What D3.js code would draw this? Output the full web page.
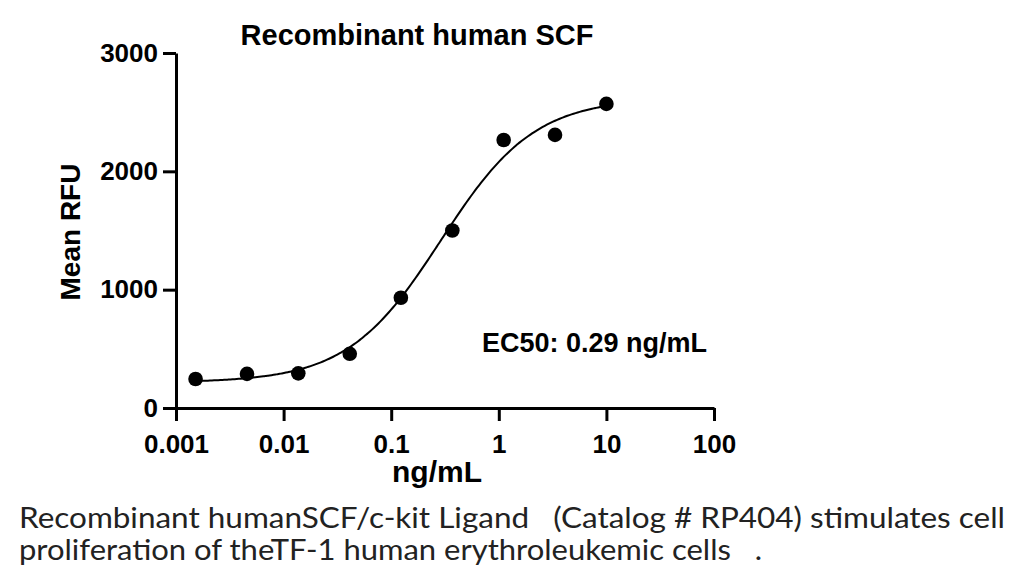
<!DOCTYPE html>
<html>
<head>
<meta charset="utf-8">
<script src="https://cdn.jsdelivr.net/npm/d3@7"></script>
<style>
  body { margin: 0; background: #fff; }
  svg { display: block; }
</style>
</head>
<body>
<svg></svg>
<script>
// dose (ng/mL) and mean RFU
const doses = [0.00152, 0.00457, 0.0137, 0.0412, 0.123, 0.370, 1.11, 3.33, 10];
const rfu = [245, 288, 293, 458, 932, 1500, 2265, 2308, 2570];
const xTicks = [0.001, 0.01, 0.1, 1, 10, 100];
const xTickLabels = ["0.001", "0.01", "0.1", "1", "10", "100"];
const yTicks = [0, 1000, 2000, 3000];
// 4PL fit parameters
const fitBottom = 215;
const fitTop = 2620;
const fitEC50 = 0.29;
const fitHill = 1.0;

const width = 1024;
const height = 577;
const svg = d3.select("svg").attr("width", width).attr("height", height);

const xScale = d3.scaleLog().domain([0.001, 100]).range([176, 714]);
const yScale = d3.scaleLinear().domain([0, 3000]).range([408, 53]);

const boldFont = "'Liberation Sans', Arial, sans-serif";

// axes
const xAxis = d3.axisBottom(xScale).tickValues(xTicks)
  .tickFormat((d, i) => xTickLabels[i]).tickSize(13).tickSizeOuter(0).tickPadding(14);
const yAxis = d3.axisLeft(yScale).tickValues(yTicks)
  .tickFormat(d3.format("d")).tickSize(13).tickSizeOuter(0).tickPadding(5);

const gx = svg.append("g").attr("transform", "translate(0,408)").call(xAxis);
const gy = svg.append("g").attr("transform", "translate(176,0)").call(yAxis);

[gx, gy].forEach(g => {
  g.select(".domain").attr("stroke", "#000").attr("stroke-width", 3);
  g.selectAll(".tick line").attr("stroke", "#000").attr("stroke-width", 3);
  g.selectAll(".tick text").attr("fill", "#000")
    .style("font-family", boldFont).style("font-weight", "bold").style("font-size", "26px");
});

// fitted curve
const curveX = d3.range(0, 201).map(i => Math.pow(10, Math.log10(doses[0]) + i / 200 * (Math.log10(doses[doses.length - 1]) - Math.log10(doses[0]))));
const fit = x => fitBottom + (fitTop - fitBottom) / (1 + Math.pow(fitEC50 / x, fitHill));
const line = d3.line().x(d => xScale(d)).y(d => yScale(fit(d))).curve(d3.curveBasis);
svg.append("path").datum(curveX).attr("d", line)
  .attr("fill", "none").attr("stroke", "#000").attr("stroke-width", 2);

// points
svg.selectAll("circle.pt").data(doses).enter().append("circle")
  .attr("class", "pt")
  .attr("cx", d => xScale(d))
  .attr("cy", (d, i) => yScale(rfu[i]))
  .attr("r", 7.3).attr("fill", "#000");

// titles
svg.append("text").text("Recombinant human SCF")
  .attr("x", 417).attr("y", 45).attr("text-anchor", "middle")
  .style("font-family", boldFont).style("font-weight", "bold").style("font-size", "29px");

svg.append("text").text("Mean RFU")
  .attr("transform", "translate(80,232) rotate(-90)").attr("text-anchor", "middle")
  .style("font-family", boldFont).style("font-weight", "bold").style("font-size", "28px");

svg.append("text").text("ng/mL")
  .attr("x", 437).attr("y", 482).attr("text-anchor", "middle")
  .style("font-family", boldFont).style("font-weight", "bold").style("font-size", "30px");

svg.append("text").text("EC50: 0.29 ng/mL")
  .attr("x", 482).attr("y", 352)
  .style("font-family", boldFont).style("font-weight", "bold").style("font-size", "27px");

// caption
const caption = [
  "Recombinant humanSCF/c-kit Ligand   (Catalog # RP404) stimulates cell",
  "proliferation of theTF-1 human erythroleukemic cells   ."
];
const captionLen = [986, 743];
svg.selectAll("text.cap").data(caption).enter().append("text")
  .attr("class", "cap")
  .attr("x", 19).attr("y", (d, i) => 528 + i * 32)
  .attr("textLength", (d, i) => captionLen[i]).attr("lengthAdjust", "spacingAndGlyphs")
  .style("white-space", "pre")
  .style("font-family", "'Lato', 'DejaVu Sans', sans-serif").style("font-size", "28px")
  .style("fill", "#222")
  .text(d => d);
</script>
</body>
</html>
